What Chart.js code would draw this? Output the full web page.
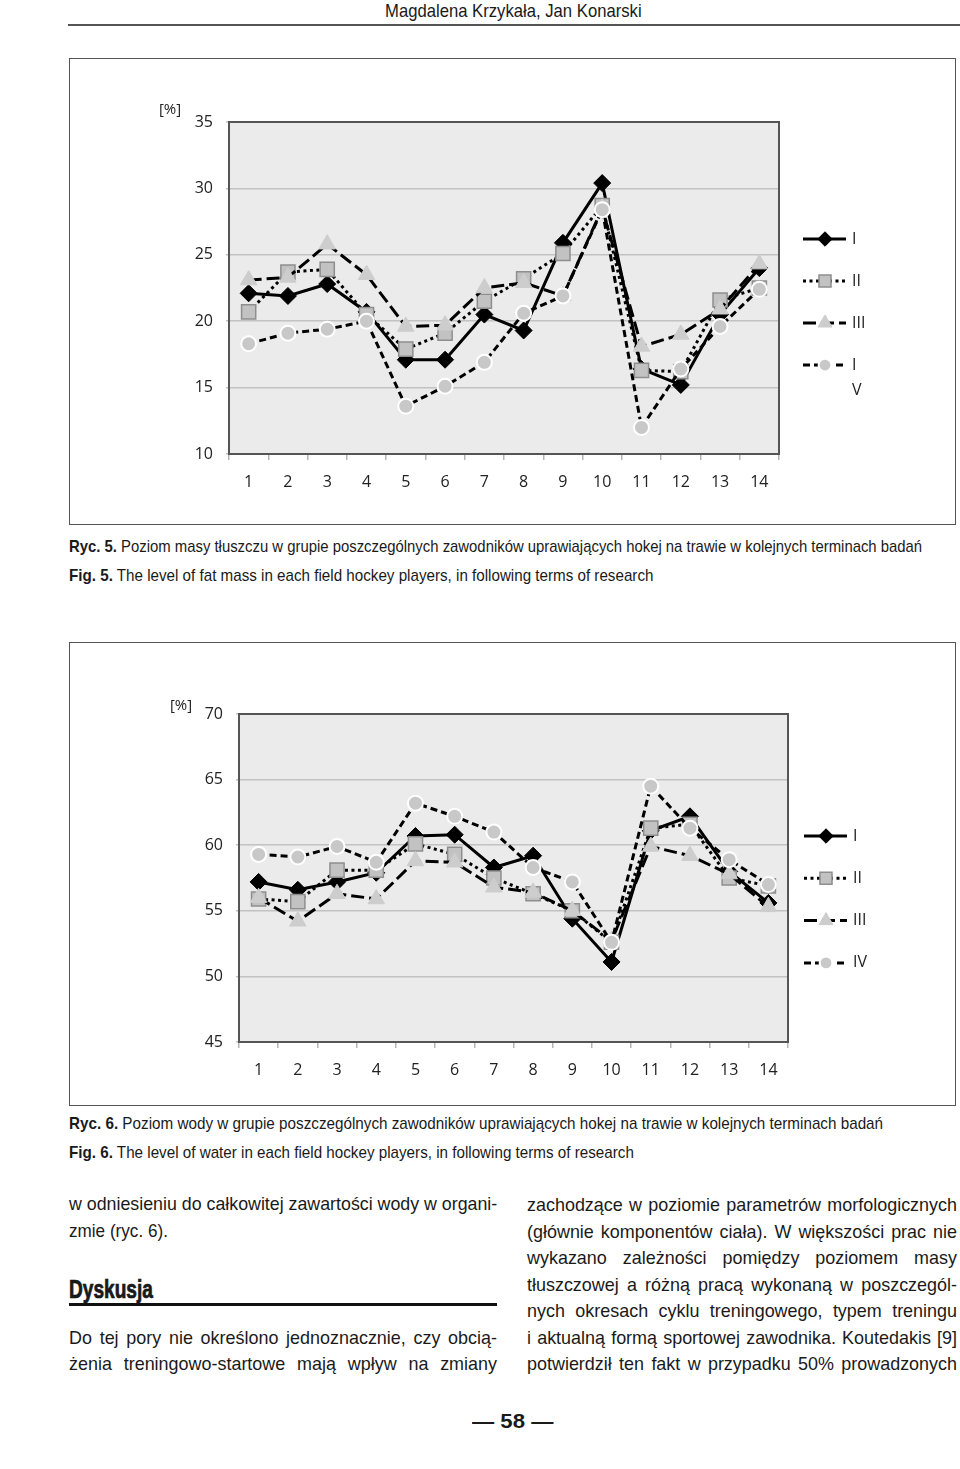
<!DOCTYPE html>
<html>
<head>
<meta charset="utf-8">
<script src="https://cdn.jsdelivr.net/npm/chart.js@4.4.1/dist/chart.umd.min.js"></script>
<style>
  html, body { margin: 0; padding: 0; background: #fff; }
  body { position: relative; width: 960px; height: 1469px; overflow: hidden;
         font-family: "Liberation Sans", Arial, sans-serif; color: #1a1a1a; }
  .t { position: absolute; white-space: nowrap; line-height: 20px; transform-origin: 0 0; }
  .box { position: absolute; border: 1.5px solid #555; box-sizing: border-box; }
  .chart { position: absolute; }
  .cap { font-size: 17px; left: 69px; }
  .cap b { font-weight: bold; }
  .body { font-size: 18.5px; }
  .j { text-align: justify; text-align-last: justify; white-space: nowrap; }
</style>
</head>
<body>

<div class="t" data-w="257" style="left:385px;top:1px;font-size:19px;">Magdalena Krzykała, Jan Konarski</div>
<div style="position:absolute;left:68px;top:24px;width:892px;height:2px;background:#555;"></div>

<div class="box" style="left:69px;top:58px;width:887px;height:467px;"></div>
<canvas id="fatChart" class="chart" width="886" height="466" style="left:69px;top:58px;"></canvas>

<div class="t cap" data-w="853" style="top:537px;"><b>Ryc. 5.</b> Poziom masy tłuszczu w grupie poszczególnych zawodników uprawiających hokej na trawie w kolejnych terminach badań</div>
<div class="t cap" data-w="584" style="top:566px;"><b>Fig. 5.</b> The level of fat mass in each field hockey players, in following terms of research</div>

<div class="box" style="left:69px;top:642px;width:887px;height:464px;"></div>
<canvas id="waterChart" class="chart" width="886" height="463" style="left:69px;top:642px;"></canvas>

<div class="t cap" data-w="814" style="top:1114px;"><b>Ryc. 6.</b> Poziom wody w grupie poszczególnych zawodników uprawiających hokej na trawie w kolejnych terminach badań</div>
<div class="t cap" data-w="565" style="top:1143px;"><b>Fig. 6.</b> The level of water in each field hockey players, in following terms of research</div>

<!-- left column -->
<div class="t body j" data-w="428" style="left:69px;top:1194px;">w odniesieniu do całkowitej zawartości wody w organi-</div>
<div class="t body" data-w="99" style="left:69px;top:1221px;">zmie (ryc. 6).</div>
<div class="t" data-w="84" style="left:69px;top:1277px;font-size:25px;line-height:24px;font-weight:bold;-webkit-text-stroke:0.7px #111;">Dyskusja</div>
<div style="position:absolute;left:69px;top:1303px;width:428px;height:2.5px;background:#111;"></div>
<div class="t body j" data-w="428" style="left:69px;top:1328px;">Do tej pory nie określono jednoznacznie, czy obcią-</div>
<div class="t body j" data-w="428" style="left:69px;top:1354px;">żenia treningowo-startowe mają wpływ na zmiany</div>

<!-- right column -->
<div class="t body j" data-w="430" style="left:527px;top:1195px;">zachodzące w poziomie parametrów morfologicznych</div>
<div class="t body j" data-w="430" style="left:527px;top:1222px;">(głównie komponentów ciała). W większości prac nie</div>
<div class="t body j" data-w="430" style="left:527px;top:1248px;">wykazano zależności pomiędzy poziomem masy</div>
<div class="t body j" data-w="430" style="left:527px;top:1275px;">tłuszczowej a różną pracą wykonaną w poszczegól-</div>
<div class="t body j" data-w="430" style="left:527px;top:1301px;">nych okresach cyklu treningowego, typem treningu</div>
<div class="t body j" data-w="430" style="left:527px;top:1328px;">i aktualną formą sportowej zawodnika. Koutedakis [9]</div>
<div class="t body j" data-w="430" style="left:527px;top:1354px;">potwierdził ten fakt w przypadku 50% prowadzonych</div>

<div class="t" data-w="81" style="left:472px;top:1411px;font-size:20px;font-weight:bold;">— 58 —</div>

<script>
// terms of research (x axis)
var terms = ['1', '2', '3', '4', '5', '6', '7', '8', '9', '10', '11', '12', '13', '14'];
var groups = ['I', 'II', 'III', 'IV'];

// Ryc. 5 - fat mass [%]
var fatTicks = [10, 35, 5];
var fatI   = [22.1, 21.9, 22.8, 20.7, 17.1, 17.1, 20.5, 19.3, 25.9, 30.4, 16.4, 15.2, 20.5, 24.0];
var fatII  = [20.7, 23.7, 23.9, 20.5, 17.9, 19.1, 21.5, 23.2, 25.1, 28.7, 16.3, 16.2, 21.6, 22.5];
var fatIII = [23.1, 23.3, 25.8, 23.5, 19.6, 19.7, 22.5, 22.9, 21.9, 28.5, 18.1, 19.0, 20.9, 24.3];
var fatIV  = [18.3, 19.1, 19.4, 20.0, 13.6, 15.1, 16.9, 20.6, 21.9, 28.4, 12.0, 16.4, 19.6, 22.4];
var fatLegend = ['I', 'II', 'III', 'I\nV'];

// Ryc. 6 - water [%]
var waterTicks = [45, 70, 5];
var watI   = [57.2, 56.6, 57.2, 57.9, 60.7, 60.8, 58.3, 59.2, 54.4, 51.1, 61.1, 62.2, 58.0, 55.6];
var watII  = [55.9, 55.7, 58.1, 58.1, 60.1, 59.3, 57.5, 56.3, 55.0, 52.6, 61.3, 61.6, 57.5, 56.9];
var watIII = [56.0, 54.2, 56.3, 55.9, 58.8, 58.7, 56.8, 56.4, 55.0, 52.7, 59.9, 59.2, 57.8, 55.3];
var watIV  = [59.3, 59.1, 59.9, 58.7, 63.2, 62.2, 61.0, 58.3, 57.2, 52.6, 64.5, 61.3, 58.9, 57.0];
var waterLegend = ['I', 'II', 'III', 'IV'];

var tickFont = { family: 'Open Sans', size: 16 };

// squeeze the page text to the narrow face of the print
function fitText() {
	document.querySelectorAll('.t[data-w]').forEach(function(el) {
		var target = +el.getAttribute('data-w');
		if (el.classList.contains('j')) {
			var natural = el.scrollWidth;
			var k = Math.min(0.97, target / natural);
			el.style.width = (target / k) + 'px';
			el.style.transform = 'scaleX(' + k + ')';
		} else {
			el.style.transform = 'scaleX(' + (target / el.scrollWidth) + ')';
		}
	});
}
fitText();

function makeSets(a, b, c, d) {
	return [
		{ label: groups[0], data: a, order: 4, borderColor: '#000', borderWidth: 3,
		  pointStyle: 'rectRot', pointRadius: 8.5, pointBackgroundColor: '#000', pointBorderColor: '#000', pointBorderWidth: 1 },
		{ label: groups[1], data: b, order: 3, borderColor: '#000', borderWidth: 3, borderDash: [3, 3.5],
		  pointStyle: 'rect', pointRadius: 10, pointBackgroundColor: '#c2c2c2', pointBorderColor: '#8e8e8e', pointBorderWidth: 1.5 },
		{ label: groups[2], data: c, order: 2, borderColor: '#000', borderWidth: 3, borderDash: [13, 5],
		  pointStyle: 'triangle', pointRadius: 9.5, pointBackgroundColor: '#cdcdcd', pointBorderColor: '#cdcdcd', pointBorderWidth: 1 },
		{ label: groups[3], data: d, order: 1, borderColor: '#000', borderWidth: 3, borderDash: [7, 4],
		  pointStyle: 'circle', pointRadius: 7.5, pointBackgroundColor: '#c8c8c8', pointBorderColor: '#fff', pointBorderWidth: 2 }
	];
}

// grey plot background and dark frame around the plot
var plotFrame = {
	id: 'plotFrame',
	beforeDraw: function(chart) {
		var a = chart.chartArea, ctx = chart.ctx;
		ctx.save();
		ctx.fillStyle = '#ebebeb';
		ctx.fillRect(a.left, a.top, a.right - a.left, a.bottom - a.top);
		ctx.restore();
	},
	beforeDatasetsDraw: function(chart) {
		var a = chart.chartArea, ctx = chart.ctx;
		ctx.save();
		ctx.strokeStyle = '#555';
		ctx.lineWidth = 2;
		ctx.strokeRect(a.left, a.top, a.right - a.left, a.bottom - a.top);
		ctx.restore();
	}
};

// legend on the right: line sample + marker + label, and the [%] unit
var sideLegend = {
	id: 'sideLegend',
	afterDraw: function(chart, args, opts) {
		var ctx = chart.ctx;
		ctx.save();
		chart.data.datasets.forEach(function(ds, i) {
			var y = opts.top + i * opts.gap;
			ctx.strokeStyle = ds.borderColor;
			ctx.lineWidth = ds.borderWidth;
			ctx.setLineDash(ds.borderDash || []);
			ctx.beginPath();
			ctx.moveTo(opts.x, y);
			ctx.lineTo(opts.x + 43, y);
			ctx.stroke();
			ctx.setLineDash([]);
			ctx.fillStyle = ds.pointBackgroundColor;
			ctx.strokeStyle = ds.pointBorderColor;
			ctx.lineWidth = ds.pointBorderWidth;
			Chart.helpers.drawPoint(ctx, {
				pointStyle: ds.pointStyle, radius: ds.pointRadius * 0.85,
				borderWidth: ds.pointBorderWidth, rotation: 0
			}, opts.x + 22, y);
			ctx.fillStyle = '#222';
			ctx.font = '16px "Open Sans"';
			ctx.textBaseline = 'middle';
			ctx.textAlign = 'left';
			opts.labels[i].split('\n').forEach(function(line, k) {
				ctx.fillText(line, opts.x + 49, y + k * 25);
			});
		});
		ctx.font = '15px "Open Sans"';
		ctx.textAlign = 'center';
		ctx.fillStyle = '#222';
		ctx.fillText('[%]', opts.unitX, opts.unitY);
		ctx.restore();
	}
};

function drawChart(id, sets, ticks, box, legend) {
	return new Chart(document.getElementById(id), {
		type: 'line',
		data: { labels: terms, datasets: sets },
		plugins: [plotFrame, sideLegend],
		options: {
			responsive: false,
			animation: false,
			layout: { padding: { left: 0, top: box.top, right: box.right, bottom: 0 } },
			plugins: {
				legend: { display: false },
				tooltip: { enabled: false },
				sideLegend: legend
			},
			scales: {
				x: {
					offset: true,
					grid: { offset: true, drawOnChartArea: false, drawTicks: true, tickLength: 6, color: '#b5b5b5', lineWidth: 1.5 },
					border: { color: '#555', width: 2 },
					ticks: { color: '#222', font: tickFont, padding: 13, maxRotation: 0, autoSkip: false },
					afterFit: function(s) { s.height = box.xh; }
				},
				y: {
					min: ticks[0], max: ticks[1],
					grid: { color: '#c2c2c2', lineWidth: 1.5, tickLength: 3 },
					border: { color: '#555', width: 2 },
					ticks: { stepSize: ticks[2], color: '#222', font: tickFont, padding: 13 },
					afterFit: function(s) { s.width = box.yw; }
				}
			}
		}
	});
}

drawChart('fatChart', makeSets(fatI, fatII, fatIII, fatIV), fatTicks,
	{ top: 64, right: 176, xh: 70, yw: 160 },
	{ x: 734, top: 181, gap: 42, labels: fatLegend, unitX: 101, unitY: 52 });

drawChart('waterChart', makeSets(watI, watII, watIII, watIV), waterTicks,
	{ top: 72, right: 167, xh: 63, yw: 170 },
	{ x: 735, top: 194, gap: 42.3, labels: waterLegend, unitX: 112, unitY: 64 });
</script>
</body>
</html>
